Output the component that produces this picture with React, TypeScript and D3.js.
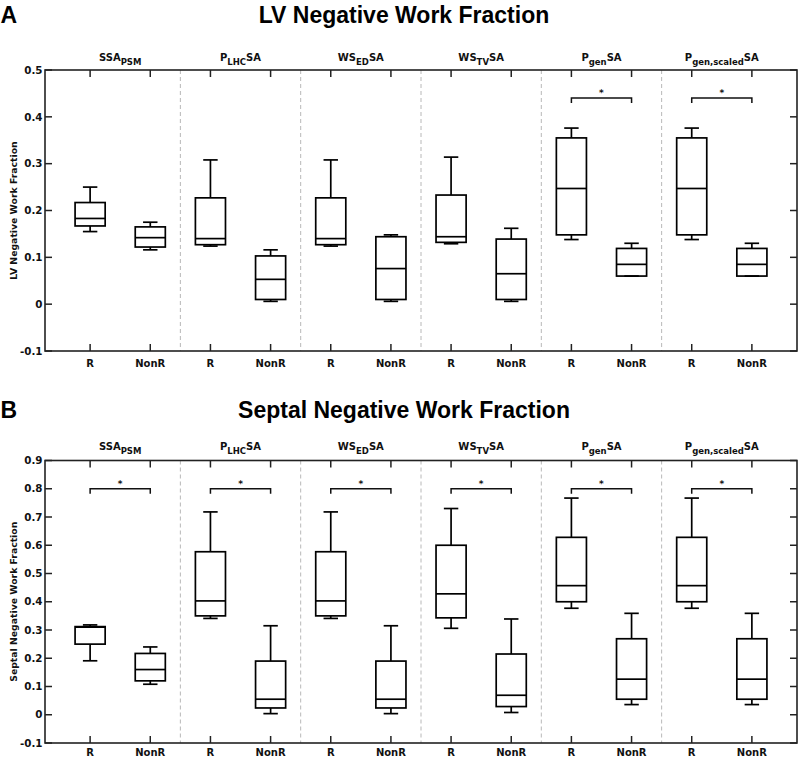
import React from "react";
import * as d3 from "d3";

// ---- data ----
const titlePrefix = ["SSA", "P", "WS", "WS", "P", "P"];
const titleSub = ["PSM", "LHC", "ED", "TV", "gen", "gen,scaled"];
const titleSuffix = ["", "SA", "SA", "SA", "SA", "SA"];
const categories = ["R", "NonR"];

// [lowWhisker, q1, median, q3, highWhisker]
const lvR = [
  [0.155, 0.167, 0.183, 0.217, 0.25],
  [0.124, 0.127, 0.14, 0.227, 0.308],
  [0.124, 0.127, 0.14, 0.227, 0.308],
  [0.129, 0.132, 0.144, 0.233, 0.314],
  [0.138, 0.148, 0.247, 0.355, 0.376],
  [0.138, 0.148, 0.247, 0.355, 0.376],
];
const lvNonR = [
  [0.116, 0.122, 0.142, 0.165, 0.175],
  [0.006, 0.01, 0.053, 0.103, 0.116],
  [0.006, 0.01, 0.076, 0.144, 0.148],
  [0.006, 0.01, 0.065, 0.139, 0.162],
  [0.06, 0.06, 0.085, 0.119, 0.13],
  [0.06, 0.06, 0.085, 0.119, 0.13],
];
const lvSignificant = [false, false, false, false, true, true];

const sepR = [
  [0.191, 0.25, 0.31, 0.312, 0.318],
  [0.341, 0.35, 0.403, 0.577, 0.718],
  [0.341, 0.35, 0.403, 0.577, 0.718],
  [0.306, 0.343, 0.428, 0.6, 0.73],
  [0.377, 0.4, 0.457, 0.628, 0.767],
  [0.377, 0.4, 0.457, 0.628, 0.767],
];
const sepNonR = [
  [0.108, 0.12, 0.16, 0.217, 0.24],
  [0.004, 0.024, 0.055, 0.19, 0.315],
  [0.004, 0.024, 0.055, 0.19, 0.315],
  [0.008, 0.029, 0.069, 0.215, 0.339],
  [0.036, 0.055, 0.126, 0.269, 0.359],
  [0.036, 0.055, 0.126, 0.269, 0.359],
];
const sepSignificant = [true, true, true, true, true, true];

const lvTicks = [-0.1, 0, 0.1, 0.2, 0.3, 0.4, 0.5];
const sepTicks = [-0.1, 0, 0.1, 0.2, 0.3, 0.4, 0.5, 0.6, 0.7, 0.8, 0.9];

const SMALL = "'DejaVu Sans', sans-serif";
const BIG = "'Liberation Sans', Arial, sans-serif";

const fmt = (v: number) => (Math.abs(v) < 1e-9 ? "0" : v.toFixed(1));

type PanelProps = {
  letter: string;
  title: string;
  ylabel: string;
  rStats: number[][];
  nStats: number[][];
  sig: boolean[];
  ticks: number[];
  domain: [number, number];
  top: number;
  bottom: number;
  titleY: number;
  colTitleY: number;
  catY: number;
  bracket: number;
  starOffset: number;
};

function Panel(p: PanelProps) {
  const x = d3.scaleLinear().domain([0.25, 12.75]).range([45, 797]);
  const y = d3.scaleLinear().domain(p.domain).range([p.bottom, p.top]);
  const left = x(0.25);
  const right = x(12.75);
  const positions = d3.range(1, 13);
  const boxes: { pos: number; s: number[] }[] = [];
  for (let g = 0; g < 6; g++) {
    boxes.push({ pos: 2 * g + 1, s: p.rStats[g] });
    boxes.push({ pos: 2 * g + 2, s: p.nStats[g] });
  }
  const hw = 0.25;
  const cw = 0.12;
  const tickLen = 7;
  const axisColor = "#222";
  return (
    <g>
      <text x={0.5} y={p.titleY} fontFamily={BIG} fontWeight="bold" fontSize={23} fill="#000">
        {p.letter}
      </text>
      <text x={404} y={p.titleY} textAnchor="middle" fontFamily={BIG} fontWeight="bold" fontSize={23} fill="#000">
        {p.title}
      </text>
      {/* dividers */}
      {d3.range(1, 6).map((g) => (
        <line
          key={"d" + g}
          x1={x(2 * g + 0.5)}
          x2={x(2 * g + 0.5)}
          y1={p.top}
          y2={p.bottom}
          stroke="#b8b8b8"
          strokeWidth={1}
          strokeDasharray="4,3"
        />
      ))}
      {/* column titles */}
      {titlePrefix.map((t, g) => (
        <text
          key={"ct" + g}
          x={x(2 * g + 1.5)}
          y={p.colTitleY}
          textAnchor="middle"
          fontFamily={SMALL}
          fontWeight="bold"
          fontSize={10}
          fill="#111"
        >
          {t}
          <tspan fontSize={8.5} dy={3.5}>
            {titleSub[g]}
          </tspan>
          <tspan dy={-3.5}>{titleSuffix[g]}</tspan>
        </text>
      ))}
      {/* frame */}
      <rect x={left} y={p.top} width={right - left} height={p.bottom - p.top} fill="none" stroke={axisColor} strokeWidth={1.6} />
      {/* y ticks */}
      {p.ticks.map((t) => (
        <g key={"yt" + t}>
          <line x1={left} x2={left + tickLen} y1={y(t)} y2={y(t)} stroke={axisColor} strokeWidth={1.5} />
          <line x1={right} x2={right - tickLen} y1={y(t)} y2={y(t)} stroke={axisColor} strokeWidth={1.5} />
          <text
            x={left - 2.5}
            y={y(t)}
            dy="0.36em"
            textAnchor="end"
            fontFamily={SMALL}
            fontWeight="bold"
            fontSize={10.3}
            fill="#111"
          >
            {fmt(t)}
          </text>
        </g>
      ))}
      {/* x ticks */}
      {positions.map((pos) => (
        <g key={"xt" + pos}>
          <line x1={x(pos)} x2={x(pos)} y1={p.bottom} y2={p.bottom - tickLen} stroke={axisColor} strokeWidth={1.5} />
          <line x1={x(pos)} x2={x(pos)} y1={p.top} y2={p.top + tickLen} stroke={axisColor} strokeWidth={1.5} />
          <text
            x={x(pos)}
            y={p.catY}
            textAnchor="middle"
            fontFamily={SMALL}
            fontWeight="bold"
            fontSize={10}
            fill="#111"
          >
            {categories[(pos - 1) % 2]}
          </text>
        </g>
      ))}
      {/* y label */}
      <text
        transform={`translate(16.5,${(p.top + p.bottom) / 2}) rotate(-90)`}
        textAnchor="middle"
        fontFamily={SMALL}
        fontWeight="bold"
        fontSize={9.3}
        fill="#111"
      >
        {p.ylabel}
      </text>
      {/* boxes */}
      {boxes.map((b, i) => {
        const [lo, q1, med, q3, hi] = b.s;
        const cx = x(b.pos);
        const x0 = x(b.pos - hw);
        const x1 = x(b.pos + hw);
        const c0 = x(b.pos - cw);
        const c1 = x(b.pos + cw);
        return (
          <g key={"b" + i} stroke="#000" strokeWidth={1.7} fill="none">
            <line x1={cx} x2={cx} y1={y(q3)} y2={y(hi)} />
            <line x1={cx} x2={cx} y1={y(q1)} y2={y(lo)} />
            <line x1={c0} x2={c1} y1={y(hi)} y2={y(hi)} />
            <line x1={c0} x2={c1} y1={y(lo)} y2={y(lo)} />
            <rect x={x0} y={y(q3)} width={x1 - x0} height={y(q1) - y(q3)} />
            <line x1={x0} x2={x1} y1={y(med)} y2={y(med)} />
          </g>
        );
      })}
      {/* significance */}
      {p.sig.map((s, g) =>
        s ? (
          <g key={"s" + g}>
            <path
              d={`M${x(2 * g + 1)},${y(p.bracket) + 5}V${y(p.bracket)}H${x(2 * g + 2)}V${y(p.bracket) + 5}`}
              fill="none"
              stroke="#111"
              strokeWidth={1.5}
            />
            <text
              x={x(2 * g + 1.5)}
              y={y(p.bracket) - p.starOffset}
              textAnchor="middle"
              fontFamily={SMALL}
              fontWeight="bold"
              fontSize={9}
              fill="#111"
            >
              *
            </text>
          </g>
        ) : null
      )}
    </g>
  );
}

export default function App() {
  return (
    <svg width={800} height={759} style={{ position: "absolute", left: 0, top: 0, background: "#fff" }}>
      <rect width={800} height={759} fill="#fff" />
      <Panel
        letter="A"
        title="LV Negative Work Fraction"
        ylabel="LV Negative Work Fraction"
        rStats={lvR}
        nStats={lvNonR}
        sig={lvSignificant}
        ticks={lvTicks}
        domain={[-0.1, 0.5]}
        top={70}
        bottom={351}
        titleY={23}
        colTitleY={61}
        catY={367}
        bracket={0.44}
        starOffset={2}
      />
      <Panel
        letter="B"
        title="Septal Negative Work Fraction"
        ylabel="Septal Negative Work Fraction"
        rStats={sepR}
        nStats={sepNonR}
        sig={sepSignificant}
        ticks={sepTicks}
        domain={[-0.1, 0.9]}
        top={460.5}
        bottom={743}
        titleY={418}
        colTitleY={450}
        catY={756}
        bracket={0.8}
        starOffset={2}
      />
    </svg>
  );
}
